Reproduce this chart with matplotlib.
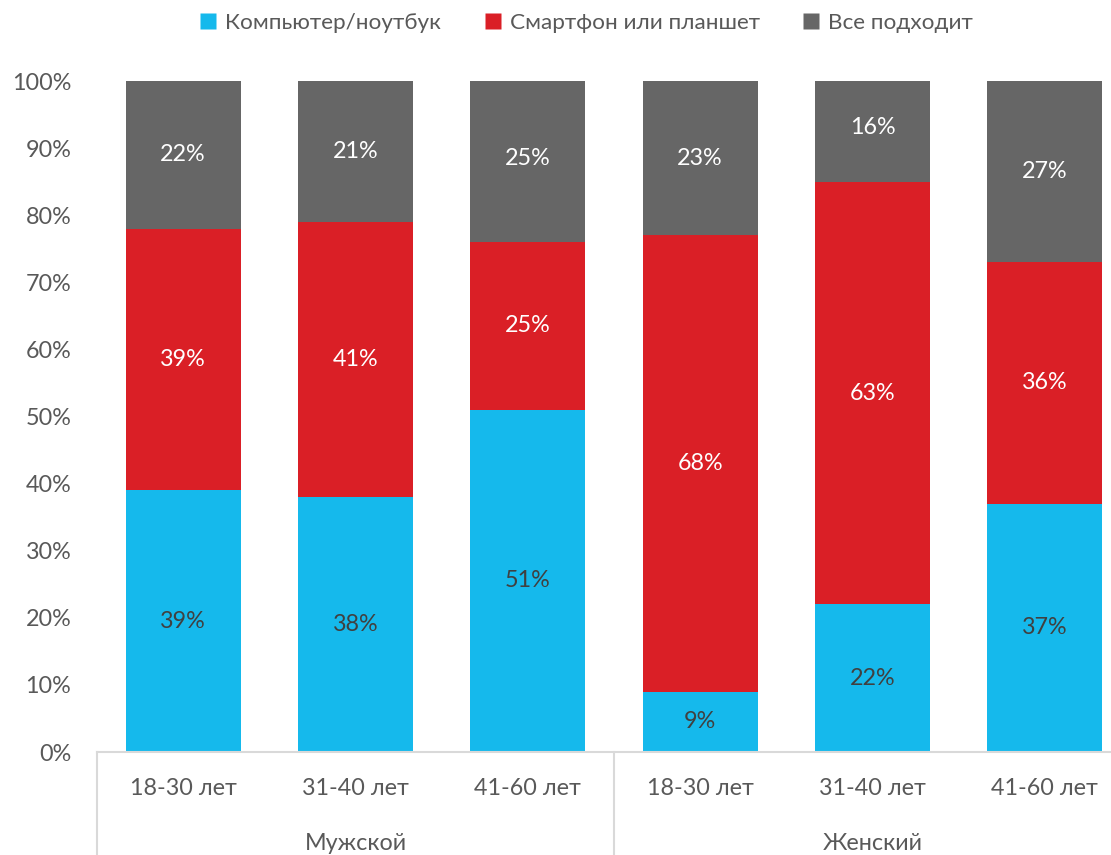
import matplotlib
matplotlib.use("Agg")
import matplotlib.pyplot as plt
from matplotlib.lines import Line2D
import numpy as np

plt.rcParams['font.family'] = ['Lato', 'DejaVu Sans']

# Data
age_groups = ["18-30 лет", "31-40 лет", "41-60 лет", "18-30 лет", "31-40 лет", "41-60 лет"]
genders = ["Мужской", "Женский"]
series_names = ["Компьютер/ноутбук", "Смартфон или планшет", "Все подходит"]
computer = [39, 38, 51, 9, 22, 37]
smartphone = [39, 41, 25, 68, 63, 36]
anything = [22, 21, 25, 23, 16, 27]
y_ticks = [0, 10, 20, 30, 40, 50, 60, 70, 80, 90, 100]

colors = ["#15B9EC", "#DA1F26", "#666666"]
label_colors = ["#404040", "white", "white"]
text_gray = "#595959"
axis_gray = "#D9D9D9"
fs = 16.8

fig = plt.figure(figsize=(11.11, 8.55), dpi=100)
ax = fig.add_axes([97 / 1111, 1 - 752 / 855, 1034 / 1111, 671 / 855])

x = np.arange(len(age_groups))
bottom = np.zeros(len(x))
for vals, col, lc in zip([computer, smartphone, anything], colors, label_colors):
    vals = np.array(vals, dtype=float)
    ax.bar(x, vals, width=0.667, bottom=bottom, color=col, edgecolor="none", zorder=2)
    for xi, b, v in zip(x, bottom, vals):
        ax.text(xi, b + v / 2, f"{int(v)}%", ha="center", va="center",
                color=lc, fontsize=fs, zorder=3)
    bottom += vals

ax.set_xlim(-0.5, len(x) - 0.5)
ax.set_ylim(0, 100)
ax.set_yticks(y_ticks)
ax.set_yticklabels([f"{t}%" for t in y_ticks], color=text_gray, fontsize=fs)
ax.tick_params(axis="y", length=0, pad=18.5)
ax.tick_params(axis="x", length=0)
ax.set_xticks([])
for s in ["top", "right", "left"]:
    ax.spines[s].set_visible(False)
ax.spines["bottom"].set_color(axis_gray)
ax.spines["bottom"].set_linewidth(1.5)

# Two-level category axis
trans = ax.get_xaxis_transform()
for xi, lab in zip(x, age_groups):
    ax.text(xi, -0.054, lab, transform=trans, ha="center", va="center",
            color=text_gray, fontsize=fs, clip_on=False)
for gi, g in enumerate(genders):
    ax.text(gi * 3 + 1, -0.136, g, transform=trans, ha="center", va="center",
            color=text_gray, fontsize=fs, clip_on=False)
for xs in [-0.5, 2.5]:
    ax.add_line(Line2D([xs, xs], [0, -0.16], transform=trans, color=axis_gray,
                       lw=1.5, clip_on=False))

handles = [Line2D([], [], marker="s", linestyle="none", markersize=11,
                  markerfacecolor=c, markeredgecolor="none") for c in colors]
fig.legend(handles, series_names, loc="center", bbox_to_anchor=(0.5215, 1 - 23 / 855),
           ncol=3, frameon=False, fontsize=16.2, labelcolor=text_gray,
           handletextpad=-0.25, columnspacing=1.3)

fig.savefig("out.png", dpi=100)
